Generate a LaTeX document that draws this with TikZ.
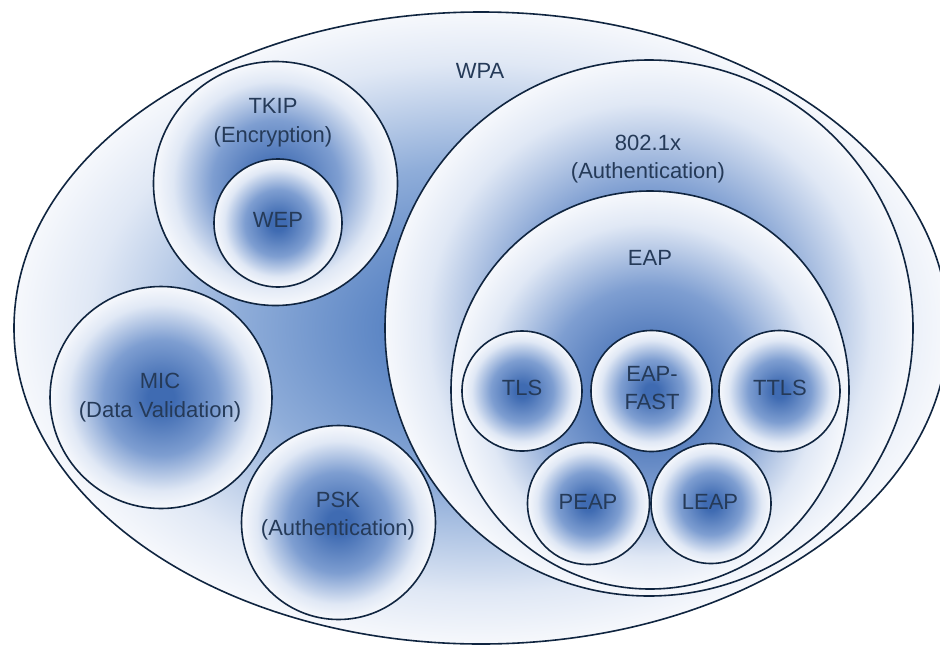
\documentclass[tikz,border=0pt]{standalone}
\usepackage{fontspec}
\setmainfont{Liberation Sans}
\usetikzlibrary{shapes.geometric}
\definecolor{linec}{HTML}{102540}
\definecolor{textc}{HTML}{253A58}
\definecolor{bedge}{HTML}{F6F8FC}
\definecolor{blight}{HTML}{E0E8F5}
\definecolor{bmid}{HTML}{7E9ED1}
\definecolor{bcore}{HTML}{3F6BB2}
\definecolor{wcore}{HTML}{4E7BBF}
\definecolor{wmid}{HTML}{8FADD9}
\pgfdeclareradialshading{blob}{\pgfpoint{0bp}{0bp}}{color(0bp)=(bcore); color(3bp)=(bcore); color(13bp)=(bmid); color(21bp)=(blight); color(25bp)=(bedge); color(50bp)=(bedge)}
\pgfdeclareradialshading{wpablob}{\pgfpoint{0bp}{0bp}}{color(0bp)=(wcore); color(3bp)=(wcore); color(13bp)=(wmid); color(21bp)=(blight); color(25bp)=(bedge); color(50bp)=(bedge)}
\tikzset{
  region/.style={draw=linec, line width=1.6pt, inner sep=0pt, outer sep=0pt, shading=blob},
  round/.style={region, circle},
  oval/.style={region, ellipse},
  lbl/.style={text=textc, font=\fontsize{22}{28.5}\selectfont, align=center, inner sep=0pt}
}
\begin{document}
\begin{tikzpicture}[x=1pt, y=-1pt]
  \fill[white] (0,0) rectangle (940,646);
  \clip (0,0) rectangle (940,646);
  % outer WPA
  \node[oval, shading=wpablob, minimum width=934pt, minimum height=632pt] (wpa) at (481,328) {};
  % left group
  \node[round, minimum size=244pt] (tkip) at (275.5,183.5) {};
  \node[round, minimum size=128pt] (wep) at (278,223) {};
  \node[round, minimum size=222pt] (mic) at (161,397.5) {};
  \node[round, minimum size=194pt] (psk) at (338.5,522.5) {};
  % 802.1x and EAP
  \node[oval, minimum width=528pt, minimum height=536pt] (dot1x) at (649,328) {};
  \node[round, minimum size=398pt] (eap) at (650,390) {};
  \node[round, minimum size=120pt] (tls) at (522,391) {};
  \node[round, minimum size=121pt] (fast) at (651.5,391) {};
  \node[round, minimum size=121pt] (ttls) at (779.5,391) {};
  \node[round, minimum size=122pt] (peap) at (588.5,503.5) {};
  \node[round, minimum size=120pt] (leap) at (711,503.5) {};
  % labels
  \node[lbl] (twpa) at (480,71) {WPA};
  \node[lbl] (ttkip) at (273,122.5) {TKIP\\(Encryption)};
  \node[lbl] (twep) at (278,220) {WEP};
  \node[lbl] (tmic) at (160,397.5) {MIC\\(Data Validation)};
  \node[lbl] (tpsk) at (338,516) {PSK\\(Authentication)};
  \node[lbl] (tdot1x) at (648,159) {802.1x\\(Authentication)};
  \node[lbl] (teap) at (650,258) {EAP};
  \node[lbl] (ttls) at (522,388) {TLS};
  \node[lbl] (tfast) at (652,388) {EAP-\\FAST};
  \node[lbl] (tttls) at (780,388) {TTLS};
  \node[lbl] (tpeap) at (588,502) {PEAP};
  \node[lbl] (tleap) at (710,502) {LEAP};
\end{tikzpicture}
\end{document}
